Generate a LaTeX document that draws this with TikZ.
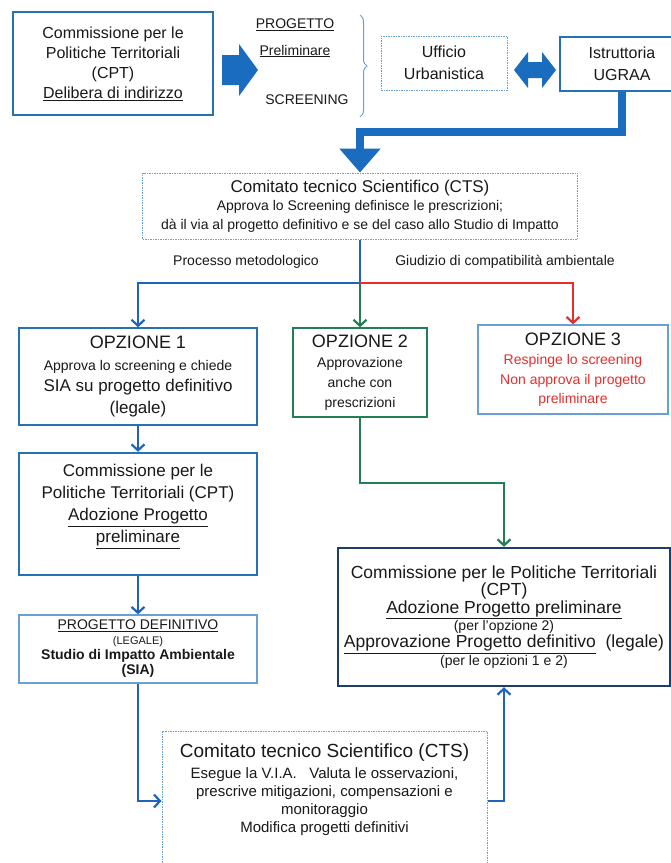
\documentclass[tikz,border=0pt]{standalone}
\usepackage{fontspec}
\setmainfont{Liberation Sans}
\usepackage{tikz}
\usetikzlibrary{positioning}
\usetikzlibrary{arrows.meta}
\usetikzlibrary{decorations.pathreplacing}
\definecolor{bordoblu}{RGB}{38,112,182}
\definecolor{bordochiaro}{RGB}{105,160,212}
\definecolor{frecciablu}{RGB}{25,108,190}
\definecolor{lineablu}{RGB}{30,100,190}
\definecolor{verde}{RGB}{35,125,85}
\definecolor{rosso}{RGB}{232,45,45}
\definecolor{navy}{RGB}{30,62,105}
\definecolor{testo}{RGB}{25,25,25}
\newcommand{\minore}{\fontsize{14}{16}\selectfont}
\lineskiplimit=-20pt

\begin{document}
\begin{tikzpicture}[x=1pt,y=-1pt,
							thickbox/.style={draw=bordoblu, line width=2.4pt, align=center, text=testo},
							midbox/.style={draw=bordoblu, line width=1.5pt, align=center, text=testo},
							thinbox/.style={draw=bordochiaro, line width=1.3pt, align=center, text=testo},
							dotbox/.style={draw=bordochiaro, line width=1pt, dash pattern=on 1.5pt off 1pt, align=center, text=testo},
							greenbox/.style={draw=verde, line width=1.5pt, align=center, text=testo},
							navybox/.style={draw=navy, line width=2.4pt, align=center, text=testo},
							plaintext/.style={align=center, text=testo},
							blueline/.style={draw=lineablu, line width=2.2pt},
							bluelink/.style={blueline, -{Straight Barb[length=6pt,width=13pt]}},
							greenlink/.style={draw=verde, line width=2.2pt, -{Straight Barb[length=6pt,width=13pt]}},
							redlink/.style={draw=rosso, line width=2.2pt, -{Straight Barb[length=6pt,width=13pt]}},
							fatlink/.style={draw=frecciablu, line width=8pt, -{Triangle[length=24pt,width=40pt]}},
							]
							\path[use as bounding box, fill=white] (0,0) rectangle (671,863);
							%Nodes
							\node[thickbox, minimum width=200pt, minimum height=103pt, font=\fontsize{16}{20}\selectfont]	(cpt1)	at	(113,63.5)	{Commissione per le\\Politiche Territoriali\\(CPT)\\\underline{Delibera di indirizzo}};
							\node[plaintext, font=\fontsize{14}{15}\selectfont]	(progetto)	at	(295,25)	{\underline{PROGETTO}};
							\node[plaintext, font=\fontsize{14}{15}\selectfont]	(prelim)	at	(295,51)	{\underline{Preliminare}};
							\node[plaintext, font=\fontsize{14}{15}\selectfont]	(screening)	at	(307,100)	{SCREENING};
							\node[dotbox, minimum width=126pt, minimum height=54pt, font=\fontsize{16}{22}\selectfont]	(ufficio)	at	(444,63)	{Ufficio\\Urbanistica};
							\node[midbox, minimum width=124pt, minimum height=54pt, font=\fontsize{16}{22}\selectfont]	(ugraa)	at	(622,64)	{Istruttoria\\UGRAA};
							\node[dotbox, minimum width=435pt, minimum height=66pt, font=\fontsize{17}{18.5}\selectfont]	(cts)	at	(360,206)	{Comitato tecnico Scientifico (CTS)\\{\minore Approva lo Screening definisce le prescrizioni;}\\{\minore dà il via al progetto definitivo e se del caso allo Studio di Impatto}};
							\node[plaintext, font=\fontsize{14}{16}\selectfont]	(metodo)	at	(246,262)	{Processo metodologico};
							\node[plaintext, font=\fontsize{14}{16}\selectfont]	(giudizio)	at	(505,262)	{Giudizio di compatibilità ambientale};
							\node[midbox, minimum width=238pt, minimum height=97pt, font=\fontsize{18}{21.5}\selectfont]	(opz1)	at	(138,376.5)	{OPZIONE 1\\{\minore Approva lo screening e chiede}\\{\fontsize{17}{21}\selectfont SIA su progetto definitivo}\\{\fontsize{17}{21}\selectfont (legale)}};
							\node[greenbox, minimum width=134pt, minimum height=89pt, font=\fontsize{18}{20}\selectfont]	(opz2)	at	(360,372.5)	{OPZIONE 2\\{\minore Approvazione}\\{\minore anche con}\\{\minore prescrizioni}};
							\node[thinbox, minimum width=190pt, minimum height=89pt, font=\fontsize{18}{19.5}\selectfont]	(opz3)	at	(573,369.5)	{OPZIONE 3\\{\minore\color{rosso}Respinge lo screening}\\{\minore\color{rosso}Non approva il progetto}\\{\minore\color{rosso}preliminare}};
							\node[thickbox, minimum width=238pt, minimum height=122pt]	(cpt2)	at	(138,514)	{};
							\node[plaintext, font=\fontsize{17}{22}\selectfont]	(cpt2testo)	at	(138,506.5)	{Commissione per le\\Politiche Territoriali (CPT)\\\underline{Adozione Progetto}\\\underline{preliminare}};
							\node[thinbox, minimum width=238pt, minimum height=68pt, font=\fontsize{14}{15}\selectfont]	(definitivo)	at	(138,649)	{\underline{PROGETTO DEFINITIVO}\\{\fontsize{11}{13}\selectfont (LEGALE)}\\\textbf{Studio di Impatto Ambientale}\\\textbf{(SIA)}};
							\node[navybox, minimum width=332pt, minimum height=138pt, font=\fontsize{17.5}{17.3}\selectfont]	(cpt3)	at	(504,617)	{Commissione per le Politiche Territoriali\\(CPT)\\\underline{Adozione Progetto preliminare}\\{\minore (per l'opzione 2)}\\\underline{Approvazione Progetto definitivo}~~(legale)\\{\minore (per le opzioni 1 e 2)}};
							\node[dotbox, minimum width=325pt, minimum height=140pt]	(cts2)	at	(324.5,801)	{};
							\node[plaintext, font=\fontsize{15}{18}\selectfont]	(cts2testo)	at	(324.5,790)	{{\fontsize{19}{21}\selectfont Comitato tecnico Scientifico (CTS)}\\[3pt]Esegue la V.I.A.\ \ \ Valuta le osservazioni,\\prescrive mitigazioni, compensazioni e\\monitoraggio\\Modifica progetti definitivi};
							\coordinate	(split)	at	(360,283);
							
							%Edges
							\fill[frecciablu] (222,55) -- (239,55) -- (239,44) -- (258,70) -- (239,96) -- (239,85) -- (222,85) -- cycle;
							\fill[frecciablu] (514,70) -- (528,52) -- (528,62) -- (542,62) -- (542,52) -- (556,70) -- (542,88) -- (542,78) -- (528,78) -- (528,88) -- cycle;
							\draw[bordochiaro, line width=1pt, decorate, decoration={brace, amplitude=7pt}] (360,15) -- (360,117);
							\draw[fatlink] (ugraa.south) -- ++(0,40) -| (cts.north);
							\draw[blueline] (cts.south) -- (split);
							\draw[bluelink] (split) -| (opz1.north);
							\draw[greenlink] (split) -- (opz2.north);
							\draw[redlink] (split) -| (opz3.north);
							\draw[bluelink] (opz1.south) -- (cpt2.north);
							\draw[bluelink] (cpt2.south) -- (definitivo.north);
							\draw[bluelink] (definitivo.south) |- (cts2.west);
							\draw[bluelink] (cts2.east) -| (cpt3.south);
							\draw[greenlink] (opz2.south) -- ++(0,65) -| (cpt3.north);
						\end{tikzpicture}
\end{document}
